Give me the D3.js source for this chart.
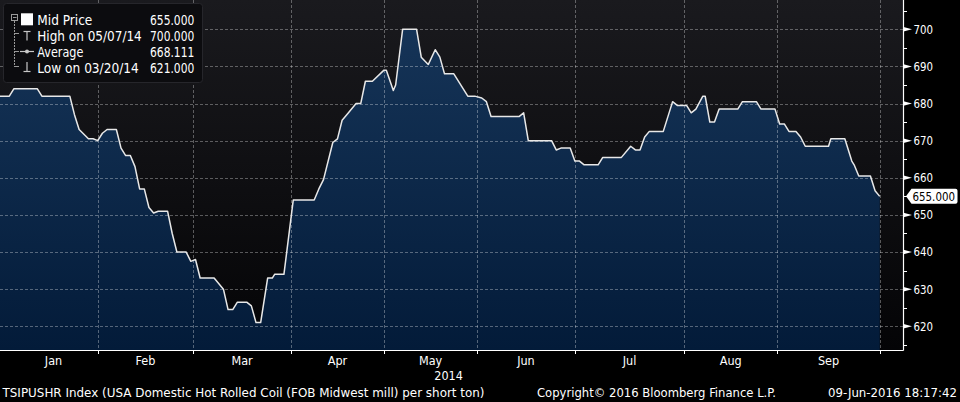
<!DOCTYPE html>
<html>
<head>
<meta charset="utf-8">
<script src="https://cdn.jsdelivr.net/npm/d3@7"></script>
<style>
  html, body { margin: 0; padding: 0; background: #000; }
  svg { display: block; }
</style>
</head>
<body>
<svg id="chart" width="960" height="402"></svg>
<script>
// ---------- DATA ----------
// trading-day index of each vertex of the price line
const days = [0, 2, 3, 8, 9, 15, 16, 17, 19, 20, 21, 22, 23, 25, 26, 27, 28, 29, 30, 31,
  32, 33, 34, 36, 37, 38, 40, 41, 42, 43, 46, 48, 49, 50, 51, 53, 54, 55, 56, 57.5,
  58.5, 59, 61, 63, 67.5, 68.5, 69.5, 71.5, 72.5, 73.5, 74.5, 76.5, 77.5, 78.5, 80, 82.5, 83, 84.5, 85, 86.5,
  89.5, 90.5, 92, 93.5, 94.5, 95.5, 97.5, 100.5, 102, 103.5, 104.5, 105.5, 111.5, 112.5, 113.5, 118.5, 119.5, 120.5, 122.5, 123.5,
  124.5, 125.5, 128.5, 129.5, 133.5, 135.5, 136.5, 137.5, 138.5, 139.5, 142.5, 144, 144.5, 145.5, 147.5, 148.5, 149.5, 151, 151.5, 152.5,
  153.5, 154.5, 158.5, 159.5, 162.5, 163.5, 166.5, 167.5, 168.5, 169.5, 171, 172, 173, 178, 178.5, 181.5, 183, 183.5, 184.5, 187,
  188, 189];
// Mid Price (USD per short ton)
const prices = [682, 682, 684, 684, 682, 682, 677, 673, 670.5, 670.5, 670, 672, 673, 673, 668, 666, 666, 663, 657, 657,
  652, 650.5, 651, 651, 645, 640, 640, 637.5, 638, 633, 633, 630, 624.5, 624.5, 626.5, 626.5, 625.5, 621, 621, 633,
  633, 634, 634, 654, 654, 657, 659.5, 669.5, 670.5, 675.5, 677, 680, 680, 686, 686, 689, 689, 683.5, 685, 700,
  700, 692.5, 690.5, 694.5, 692.5, 688, 688, 682, 682, 681.5, 680.5, 676.5, 676.5, 677.5, 670, 670, 667.5, 668, 668, 664.5,
  664.5, 663.5, 663.5, 665.5, 665.5, 668.5, 667.5, 667.5, 671, 672.5, 672.5, 678.5, 680.5, 679.5, 679.5, 677.5, 678.5, 682, 682, 675,
  675, 678.5, 678.5, 680.5, 680.5, 678.5, 678.5, 674.5, 674.5, 672.5, 672.5, 671, 668.5, 668.5, 670.5, 670.5, 664.5, 663.5, 660.5, 660.5,
  656.5, 655];

const months = ["Jan", "Feb", "Mar", "Apr", "May", "Jun", "Jul", "Aug", "Sep"];
const monthStart = [2, 21, 41.5, 62.5, 82.5, 102.5, 123.5, 147, 167, 189]; // trading-day index
const yearLabel = "2014";
const yTicks = [620, 630, 640, 650, 660, 670, 680, 690, 700];
const yMinorTicks = [615, 625, 635, 645, 655, 665, 675, 685, 695, 705];

const legendLabels = ["Mid Price", "High on 05/07/14", "Average", "Low on 03/20/14"];
const legendValues = ["655.000", "700.000", "668.111", "621.000"];
const lastValue = 655;
const lastLabel = "655.000";

const footerLeft = "TSIPUSHR Index (USA Domestic Hot Rolled Coil (FOB Midwest mill) per short ton)";
const footerMid = "Copyright\u00A9 2016 Bloomberg Finance L.P.";
const footerRight = "09-Jun-2016 18:17:42";

// ---------- LAYOUT ----------
const W = 960, H = 402;
const plot = { left: 0, right: 903, top: 0, bottom: 350 };
const FONT = "'Liberation Sans Narrow','DejaVu Sans Condensed','DejaVu Sans',sans-serif";

const svg = d3.select("#chart");
const x = d3.scaleLinear().domain([0, 194]).range([plot.left, plot.right]);
const y = d3.scaleLinear().domain([620, 700]).range([326.3, 29.3]);

const defs = svg.append("defs");
const bgGrad = defs.append("linearGradient").attr("id", "bg")
  .attr("x1", 0).attr("y1", 0).attr("x2", 0).attr("y2", 1);
bgGrad.append("stop").attr("offset", "0%").attr("stop-color", "#1a1a1e");
bgGrad.append("stop").attr("offset", "100%").attr("stop-color", "#040406");

const areaGrad = defs.append("linearGradient").attr("id", "areaGrad")
  .attr("gradientUnits", "userSpaceOnUse")
  .attr("x1", 0).attr("y1", plot.top).attr("x2", 0).attr("y2", plot.bottom);
areaGrad.append("stop").attr("offset", "0%").attr("stop-color", "#17365a");
areaGrad.append("stop").attr("offset", "100%").attr("stop-color", "#031b39");

// page background
svg.append("rect").attr("width", W).attr("height", H).attr("fill", "#000");
// plot background
svg.append("rect")
  .attr("x", plot.left).attr("y", plot.top)
  .attr("width", plot.right - plot.left).attr("height", plot.bottom - plot.top)
  .attr("fill", "url(#bg)");

const data = days.map((d, i) => ({ d, v: prices[i] }));

// area
svg.append("path").datum(data)
  .attr("fill", "url(#areaGrad)")
  .attr("d", d3.area().x(p => x(p.d)).y0(plot.bottom).y1(p => y(p.v)));

// grid
const grid = svg.append("g").attr("stroke", "rgba(255,255,255,0.32)")
  .attr("stroke-width", 1).attr("stroke-dasharray", "3,2");
yTicks.forEach(t => {
  grid.append("line").attr("x1", plot.left).attr("x2", plot.right)
    .attr("y1", Math.round(y(t)) + 0.5).attr("y2", Math.round(y(t)) + 0.5);
});
monthStart.slice(1).forEach(m => {
  grid.append("line").attr("y1", plot.top).attr("y2", plot.bottom)
    .attr("x1", Math.round(x(m)) + 0.5).attr("x2", Math.round(x(m)) + 0.5);
});

// line
svg.append("path").datum(data)
  .attr("fill", "none").attr("stroke", "#e8e8e8").attr("stroke-width", 1.5)
  .attr("stroke-linejoin", "round")
  .attr("d", d3.line().x(p => x(p.d)).y(p => y(p.v)));

// ---------- AXES ----------
const axisX = plot.right + 0.5;
svg.append("line").attr("x1", axisX).attr("x2", axisX)
  .attr("y1", plot.top).attr("y2", plot.bottom + 0.5)
  .attr("stroke", "#fff").attr("stroke-width", 1.2);
svg.append("line").attr("x1", plot.left).attr("x2", axisX)
  .attr("y1", plot.bottom + 0.5).attr("y2", plot.bottom + 0.5)
  .attr("stroke", "#fff").attr("stroke-width", 1.2);

// right axis ticks
yMinorTicks.forEach(t => {
  const yy = Math.round(y(t)) + 0.5;
  svg.append("line").attr("x1", axisX).attr("x2", axisX + 3.5)
    .attr("y1", yy).attr("y2", yy).attr("stroke", "#fff").attr("stroke-width", 1);
});
yTicks.forEach(t => {
  const yy = y(t);
  svg.append("path")
    .attr("d", `M${axisX},${yy - 2.2}L${axisX + 8.5},${yy}L${axisX},${yy + 2.2}Z`)
    .attr("fill", "#fff");
  svg.append("text").attr("x", 913.5).attr("y", yy + 4.4)
    .attr("fill", "#fff").attr("font-family", FONT).attr("font-size", 12.5)
    .attr("textLength", 19.5).attr("lengthAdjust", "spacingAndGlyphs")
    .text(t);
});

// bottom axis ticks + labels
monthStart.slice(1).forEach(m => {
  const xx = Math.round(x(m)) + 0.5;
  svg.append("line").attr("x1", xx).attr("x2", xx)
    .attr("y1", plot.bottom).attr("y2", plot.bottom + 4)
    .attr("stroke", "#fff").attr("stroke-width", 1);
});
months.forEach((mo, i) => {
  const cx = (x(monthStart[i]) + x(monthStart[i + 1])) / 2;
  svg.append("text").attr("x", cx).attr("y", 365)
    .attr("text-anchor", "middle").attr("fill", "#fff")
    .attr("font-family", FONT).attr("font-size", 12.5)
    .text(mo);
});
svg.append("text").attr("x", (x(monthStart[4]) + x(monthStart[5])) / 2 + 18).attr("y", 380)
  .attr("text-anchor", "middle").attr("fill", "#fff")
  .attr("font-family", FONT).attr("font-size", 12.5)
  .text(yearLabel);

// last value tag
{
  const yv = y(lastValue);
  const tip = axisX + 2.5, bx = axisX + 8, ex = 957.5, h = 7.5;
  svg.append("path")
    .attr("d", `M${tip},${yv}L${bx},${yv - h}L${ex - 2},${yv - h}Q${ex},${yv - h} ${ex},${yv - h + 2}` +
      `L${ex},${yv + h - 2}Q${ex},${yv + h} ${ex - 2},${yv + h}L${bx},${yv + h}Z`)
    .attr("fill", "#fff");
  svg.append("text").attr("x", 912.5).attr("y", yv + 4.6)
    .attr("fill", "#000").attr("font-family", FONT).attr("font-size", 12.5)
    .attr("textLength", 42.5).attr("lengthAdjust", "spacingAndGlyphs")
    .text(lastLabel);
}

// ---------- LEGEND ----------
const lg = svg.append("g");
lg.append("rect").attr("x", 3.5).attr("y", 3.5).attr("width", 199).attr("height", 79)
  .attr("rx", 3).attr("fill", "#0c0c0f").attr("stroke", "#26262b").attr("stroke-width", 1);

const rowY = [25, 40.7, 56.7, 72.7];
const labelW = [55, 104.5, 46, 101.5];
legendLabels.forEach((l, i) => {
  lg.append("text").attr("x", 37.3).attr("y", rowY[i])
    .attr("fill", "#fff").attr("font-family", FONT).attr("font-size", 13.3)
    .attr("textLength", labelW[i]).attr("lengthAdjust", "spacingAndGlyphs")
    .text(l);
  lg.append("text").attr("x", 194.3).attr("y", rowY[i])
    .attr("text-anchor", "end")
    .attr("fill", "#fff").attr("font-family", FONT).attr("font-size", 13.3)
    .attr("textLength", 44.3).attr("lengthAdjust", "spacingAndGlyphs")
    .text(legendValues[i]);
});
// tree lines
const tree = lg.append("g").attr("stroke", "#9a9a9a").attr("stroke-width", 1).attr("fill", "none");
tree.append("rect").attr("x", 11.5).attr("y", 14.5).attr("width", 6).attr("height", 6);
tree.append("line").attr("x1", 13).attr("x2", 16.5).attr("y1", 17.5).attr("y2", 17.5);
tree.append("line").attr("x1", 14.5).attr("x2", 14.5).attr("y1", 21).attr("y2", 67).attr("stroke-dasharray", "2,1");
[33.5, 51.5, 66.5].forEach(yy => {
  tree.append("line").attr("x1", 14.5).attr("x2", 19).attr("y1", yy).attr("y2", yy);
});
// mid price white square
lg.append("rect").attr("x", 21).attr("y", 13.3).attr("width", 12).attr("height", 12).attr("fill", "#fff");
// high icon
const ic = lg.append("g").attr("stroke", "#c8c8c8").attr("stroke-width", 1.2).attr("fill", "none");
ic.append("line").attr("x1", 23.5).attr("x2", 30.5).attr("y1", 31.5).attr("y2", 31.5);
ic.append("line").attr("x1", 27).attr("x2", 27).attr("y1", 31.5).attr("y2", 40.5);
// average icon
ic.append("line").attr("x1", 20).attr("x2", 34).attr("y1", 51.5).attr("y2", 51.5);
lg.append("circle").attr("cx", 27).attr("cy", 51.5).attr("r", 2).attr("fill", "#c8c8c8");
// low icon
ic.append("line").attr("x1", 27).attr("x2", 27).attr("y1", 62).attr("y2", 71.5);
ic.append("line").attr("x1", 23.5).attr("x2", 30.5).attr("y1", 71.5).attr("y2", 71.5);

// ---------- FOOTER ----------
svg.append("text").attr("x", 2.5).attr("y", 397.3)
  .attr("fill", "#fff").attr("font-family", FONT).attr("font-size", 11.5)
  .attr("textLength", 482).attr("lengthAdjust", "spacingAndGlyphs")
  .text(footerLeft);
svg.append("text").attr("x", 537).attr("y", 397.3)
  .attr("fill", "#fff").attr("font-family", FONT).attr("font-size", 11.5)
  .attr("textLength", 239).attr("lengthAdjust", "spacingAndGlyphs")
  .text(footerMid);
svg.append("text").attr("x", 828).attr("y", 397.3)
  .attr("fill", "#fff").attr("font-family", FONT).attr("font-size", 11.5)
  .attr("textLength", 129).attr("lengthAdjust", "spacingAndGlyphs")
  .text(footerRight);
</script>
</body>
</html>
